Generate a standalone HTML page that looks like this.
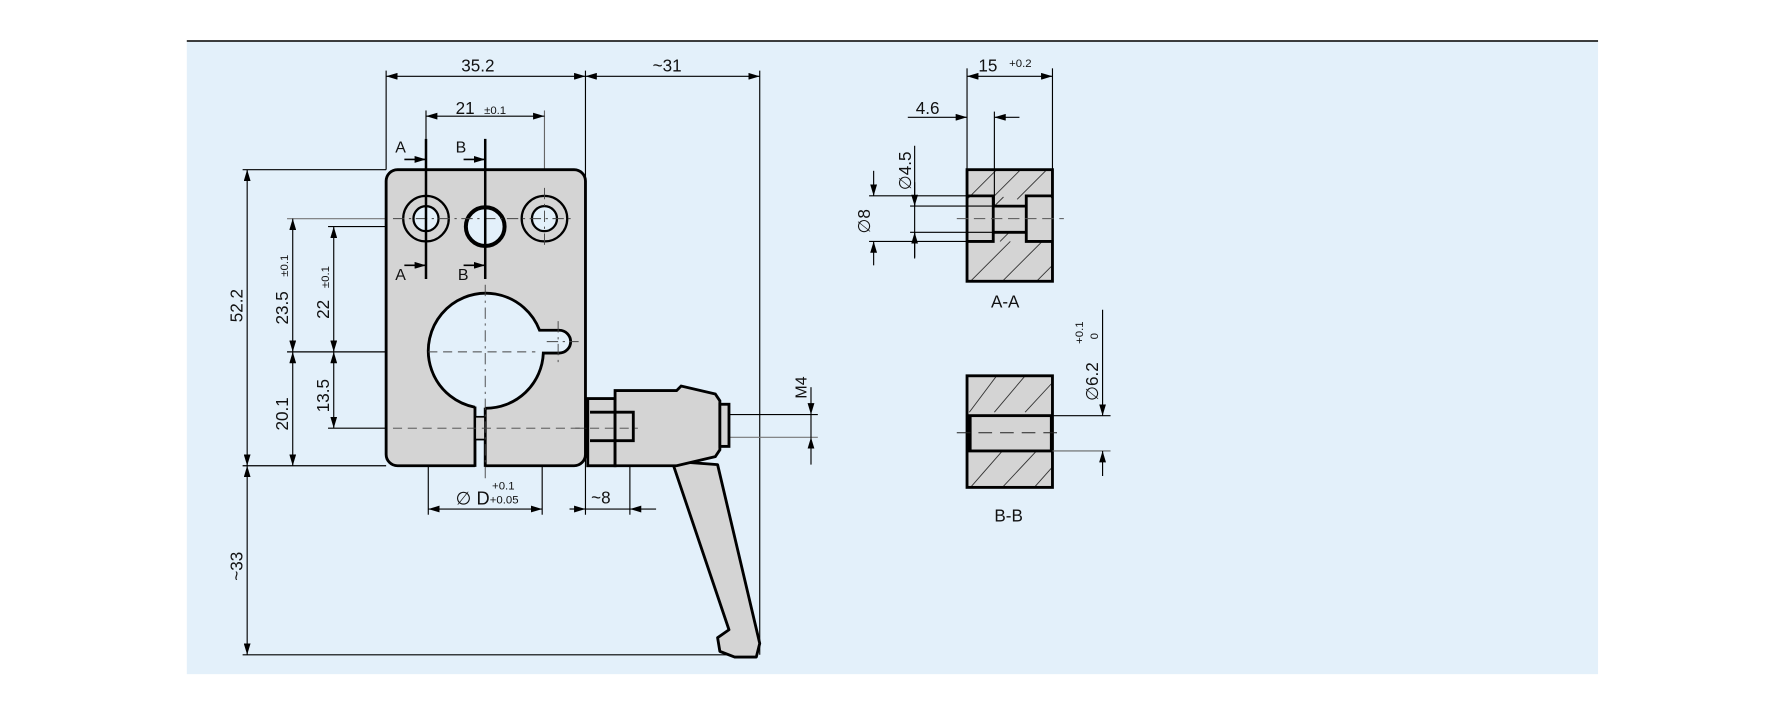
<!DOCTYPE html>
<html><head><meta charset="utf-8"><style>
html,body{margin:0;padding:0;background:#fff}
svg{display:block}
text{font-family:"Liberation Sans",sans-serif;fill:#111}
</style></head><body>
<svg width="1786" height="714" viewBox="0 0 1568 627" preserveAspectRatio="none" xmlns="http://www.w3.org/2000/svg">
<defs>
<marker id="ar" viewBox="0 0 10 6" refX="10" refY="3" markerWidth="10" markerHeight="6" markerUnits="userSpaceOnUse" orient="auto-start-reverse"><path d="M0,0L10,3L0,6z" fill="#000"/></marker>
<pattern id="h" width="22" height="22" patternUnits="userSpaceOnUse"><path d="M-2,24L24,-2" stroke="#333" stroke-width="0.8"/></pattern>
</defs>
<rect x="164" y="36" width="1239" height="556" fill="#e3f0fa"/>
<line x1="164" y1="36" x2="1403" y2="36" stroke="#222" stroke-width="1.5"/>

<g stroke="#000" stroke-width="1" fill="none">
<line x1="339" y1="62" x2="339" y2="149"/>
<line x1="514" y1="62" x2="514" y2="452"/>
<line x1="667" y1="62" x2="667" y2="575"/>
<line x1="374" y1="97" x2="374" y2="122"/>
<line x1="478" y1="97" x2="478" y2="180" stroke="#666"/>
<line x1="213" y1="149" x2="339" y2="149"/>
<line x1="213" y1="409" x2="339" y2="409"/>
<line x1="213" y1="575" x2="640" y2="575"/>
<line x1="252" y1="192" x2="375" y2="192" stroke="#777"/>
<line x1="288" y1="199" x2="450" y2="199"/>
<line x1="252" y1="309" x2="376" y2="309"/>
<line x1="288" y1="376" x2="340" y2="376"/>
<line x1="376" y1="409" x2="376" y2="452"/>
<line x1="476" y1="409" x2="476" y2="452"/>
<line x1="553" y1="375" x2="553" y2="452"/>
<line x1="555" y1="364" x2="718" y2="364"/>
<line x1="555" y1="384" x2="718" y2="384" stroke="#777"/>
<line x1="339" y1="67" x2="514" y2="67" marker-start="url(#ar)" marker-end="url(#ar)"/>
<line x1="514" y1="67" x2="667" y2="67" marker-start="url(#ar)" marker-end="url(#ar)"/>
<line x1="374" y1="102" x2="478" y2="102" marker-start="url(#ar)" marker-end="url(#ar)"/>
<line x1="217" y1="149" x2="217" y2="409" marker-start="url(#ar)" marker-end="url(#ar)"/>
<line x1="217" y1="409" x2="217" y2="575" marker-start="url(#ar)" marker-end="url(#ar)"/>
<line x1="257" y1="192" x2="257" y2="309" marker-start="url(#ar)" marker-end="url(#ar)"/>
<line x1="257" y1="309" x2="257" y2="409" marker-start="url(#ar)" marker-end="url(#ar)"/>
<line x1="293" y1="199" x2="293" y2="309" marker-start="url(#ar)" marker-end="url(#ar)"/>
<line x1="293" y1="309" x2="293" y2="376" marker-start="url(#ar)" marker-end="url(#ar)"/>
<line x1="376" y1="447" x2="476" y2="447" marker-start="url(#ar)" marker-end="url(#ar)"/>
<line x1="500" y1="447" x2="514" y2="447" marker-end="url(#ar)"/>
<line x1="514" y1="447" x2="553" y2="447"/>
<line x1="576" y1="447" x2="553" y2="447" marker-end="url(#ar)"/>
<line x1="712" y1="340" x2="712" y2="364" marker-end="url(#ar)"/>
<line x1="712" y1="408" x2="712" y2="384" marker-end="url(#ar)"/>
<line x1="712" y1="364" x2="712" y2="384"/>
</g>

<!-- block -->
<rect x="339" y="149" width="175" height="260" rx="10" fill="#d4d4d4" stroke="#000" stroke-width="2.5"/>
<rect x="417" y="352" width="9" height="60" fill="#e3f0fa"/>
<path d="M417,357.6A50.5,50.5 0 1 1 473.7,290H491A10,10 0 0 1 491,310H477A50.5,50.5 0 0 1 426,358.5" fill="#e3f0fa" stroke="#000" stroke-width="2.5"/>
<line x1="417" y1="357" x2="417" y2="410" stroke="#000" stroke-width="2.5"/>
<line x1="426" y1="358" x2="426" y2="410" stroke="#000" stroke-width="2.5"/>
<rect x="418" y="366" width="7" height="20" fill="#d4d4d4"/>
<line x1="417" y1="366" x2="426" y2="366" stroke="#000" stroke-width="1.5"/>
<line x1="417" y1="386" x2="426" y2="386" stroke="#000" stroke-width="1.5"/>
<!-- holes -->
<circle cx="374" cy="192" r="20" fill="none" stroke="#000" stroke-width="2"/>
<circle cx="374" cy="192" r="11" fill="#e3f0fa" stroke="#000" stroke-width="2"/>
<circle cx="478" cy="192" r="20" fill="none" stroke="#000" stroke-width="2"/>
<circle cx="478" cy="192" r="11" fill="#e3f0fa" stroke="#000" stroke-width="2"/>
<circle cx="426" cy="199" r="17" fill="#e3f0fa" stroke="#000" stroke-width="3.5"/>
<g stroke="#444" stroke-width="0.8" stroke-dasharray="10,4,2,4" fill="none">
<line x1="345" y1="192" x2="505" y2="192"/>
<line x1="478" y1="165" x2="478" y2="218"/>
<line x1="426" y1="250" x2="426" y2="420"/>
<line x1="376" y1="309" x2="470" y2="309" stroke-dasharray="8,5"/>
<line x1="480" y1="300" x2="508" y2="300"/>
<line x1="490" y1="282" x2="490" y2="318"/>
<line x1="345" y1="376" x2="515" y2="376" stroke-dasharray="8,5"/>
</g>
<g stroke="#000" stroke-width="2.2">
<line x1="374" y1="122" x2="374" y2="245"/>
<line x1="426" y1="122" x2="426" y2="245"/>
</g>
<g stroke="#000" stroke-width="1.5">
<line x1="355" y1="140" x2="374" y2="140" marker-end="url(#ar)"/>
<line x1="407" y1="140" x2="426" y2="140" marker-end="url(#ar)"/>
<line x1="355" y1="233" x2="374" y2="233" marker-end="url(#ar)"/>
<line x1="407" y1="233" x2="426" y2="233" marker-end="url(#ar)"/>
</g>
<text x="347" y="134" font-size="14">A</text>
<text x="400" y="134" font-size="14">B</text>
<text x="347" y="246" font-size="14">A</text>
<text x="402" y="246" font-size="14">B</text>

<!-- handle -->
<path d="M590,405L640,553L630,560L632,572L645,577H664L667,565L630,408Z" fill="#d4d4d4" stroke="#000" stroke-width="2.5" stroke-linejoin="round"/>
<rect x="516" y="350" width="24" height="59" fill="#d4d4d4" stroke="#000" stroke-width="2.5"/>
<path d="M540,343H594L598,339L628,346L632,352V395L628,401L594,409H540Z" fill="#d4d4d4" stroke="#000" stroke-width="2.5"/>
<rect x="632" y="355" width="8" height="37" fill="#d4d4d4" stroke="#000" stroke-width="2.5"/>
<path d="M518,362H556V387H518" fill="none" stroke="#000" stroke-width="2.5"/>
<line x1="505" y1="376" x2="560" y2="376" stroke="#444" stroke-width="0.8" stroke-dasharray="8,5"/>

<text x="405" y="63" font-size="15">35.2</text>
<text x="573" y="63" font-size="15">~31</text>
<text x="400" y="100" font-size="15">21</text><text x="425" y="100" font-size="10">±0.1</text>
<text transform="translate(213,283) rotate(-90)" font-size="15">52.2</text>
<text transform="translate(213,510) rotate(-90)" font-size="15">~33</text>
<text transform="translate(253,285) rotate(-90)" font-size="15">23.5</text>
<text transform="translate(253,243) rotate(-90)" font-size="10">±0.1</text>
<text transform="translate(289,280) rotate(-90)" font-size="15">22</text>
<text transform="translate(289,253) rotate(-90)" font-size="10">±0.1</text>
<text transform="translate(253,378) rotate(-90)" font-size="15">20.1</text>
<text transform="translate(289,362) rotate(-90)" font-size="15">13.5</text>
<text x="400" y="443" font-size="16">∅ D</text>
<text x="432" y="430" font-size="10">+0.1</text>
<text x="430" y="442" font-size="10">+0.05</text>
<text x="519" y="442" font-size="15">~8</text>
<text transform="translate(708,350) rotate(-90)" font-size="14">M4</text>

<!-- A-A section -->
<rect x="849" y="149" width="75" height="98" fill="#d4d4d4"/>
<g stroke="#333" stroke-width="0.8">
<line x1="849" y1="175" x2="875" y2="149"/><line x1="870" y1="175" x2="896" y2="149"/><line x1="893" y1="175" x2="919" y2="149"/>
<line x1="852" y1="247" x2="887" y2="212"/><line x1="880" y1="247" x2="915" y2="212"/><line x1="910" y1="247" x2="924" y2="233"/>
<line x1="873" y1="181" x2="881" y2="173"/><line x1="878" y1="212" x2="886" y2="204"/>
</g>
<rect x="849" y="149" width="75" height="98" fill="none" stroke="#000" stroke-width="2.5"/>
<rect x="851" y="174" width="20" height="37" fill="#d4d4d4"/>
<rect x="903" y="174" width="20" height="37" fill="#d4d4d4"/>
<rect x="874" y="183" width="26" height="20" fill="#d4d4d4"/>
<path d="M849,172H872V181H901V172H924 M849,212H872V204H901V212H924 M872,172V212 M901,172V212" fill="none" stroke="#000" stroke-width="2.5"/>
<line x1="840" y1="192" x2="934" y2="192" stroke="#555" stroke-width="0.8" stroke-dasharray="10,5"/>
<g stroke="#000" stroke-width="1">
<line x1="849" y1="60" x2="849" y2="149"/><line x1="924" y1="60" x2="924" y2="149"/>
<line x1="873" y1="98" x2="873" y2="181"/>
<line x1="849" y1="67" x2="924" y2="67" marker-start="url(#ar)" marker-end="url(#ar)"/>
<line x1="797" y1="103" x2="849" y2="103" marker-end="url(#ar)"/>
<line x1="895" y1="103" x2="873" y2="103" marker-end="url(#ar)"/>
<line x1="763" y1="172" x2="849" y2="172"/><line x1="763" y1="212" x2="849" y2="212"/>
<line x1="799" y1="181" x2="872" y2="181"/><line x1="799" y1="204" x2="872" y2="204"/>
<line x1="767" y1="150" x2="767" y2="172" marker-end="url(#ar)"/>
<line x1="767" y1="233" x2="767" y2="212" marker-end="url(#ar)"/>
<line x1="803" y1="128" x2="803" y2="227"/>
<line x1="803" y1="160" x2="803" y2="181" marker-end="url(#ar)"/>
<line x1="803" y1="226" x2="803" y2="204" marker-end="url(#ar)"/>
</g>
<text x="859" y="63" font-size="15">15</text><text x="886" y="59" font-size="10">+0.2</text>
<text x="804" y="100" font-size="15">4.6</text>
<text transform="translate(800,167) rotate(-90)" font-size="15">∅4.5</text>
<text transform="translate(764,205) rotate(-90)" font-size="15">∅8</text>
<text x="870" y="270" font-size="15">A-A</text>

<!-- B-B section -->
<rect x="849" y="330" width="75" height="98" fill="#d4d4d4"/>
<g stroke="#333" stroke-width="0.8">
<line x1="851" y1="362" x2="875" y2="330"/><line x1="873" y1="362" x2="900" y2="330"/><line x1="900" y1="362" x2="924" y2="336"/>
<line x1="852" y1="428" x2="880" y2="396"/><line x1="880" y1="428" x2="910" y2="396"/><line x1="908" y1="428" x2="924" y2="410"/>
</g>
<rect x="849" y="330" width="75" height="98" fill="none" stroke="#000" stroke-width="2.5"/>
<rect x="850" y="365" width="73" height="31" fill="#d4d4d4" stroke="#000" stroke-width="2.5"/>
<line x1="851" y1="365" x2="851" y2="396" stroke="#000" stroke-width="4"/>
<line x1="840" y1="380" x2="934" y2="380" stroke="#222" stroke-width="0.9" stroke-dasharray="12,7"/>
<g stroke="#000" stroke-width="1">
<line x1="924" y1="365" x2="975" y2="365"/><line x1="924" y1="396" x2="975" y2="396" stroke="#666"/>
<line x1="968" y1="272" x2="968" y2="365" marker-end="url(#ar)"/>
<line x1="968" y1="418" x2="968" y2="396" marker-end="url(#ar)"/>
</g>
<text transform="translate(964,352) rotate(-90)" font-size="15">∅6.2</text>
<text transform="translate(951,302) rotate(-90)" font-size="10">+0.1</text>
<text transform="translate(964,298) rotate(-90)" font-size="10">0</text>
<text x="873" y="458" font-size="15">B-B</text>
</svg>
</body></html>
